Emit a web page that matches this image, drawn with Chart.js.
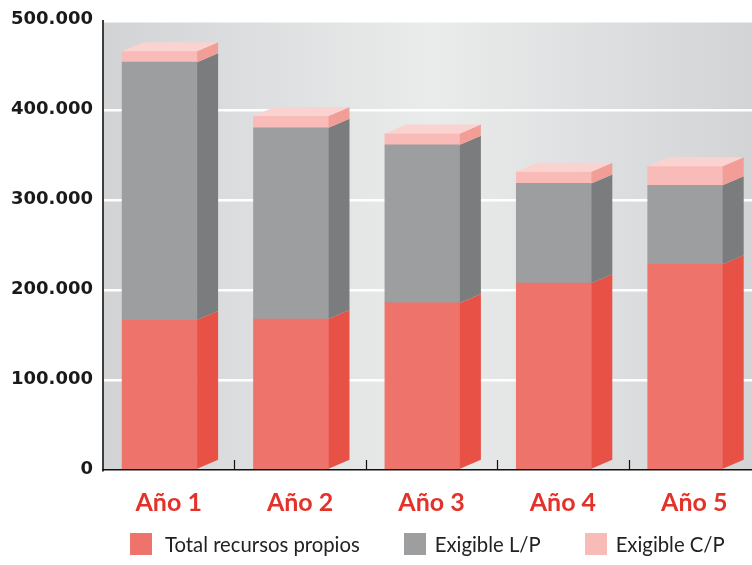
<!DOCTYPE html>
<html>
<head>
<meta charset="UTF-8">
<title>recursos.html</title>
<style>
	html, body {margin: 0; padding: 0; background: #fff; overflow: hidden;}
	#wrap {position: relative; width: 760px; height: 565px;}
	#leyenda {position: absolute; left: 130px; top: 533px; display: flex; gap: 44px;
		font-family: Lato, sans-serif; font-size: 20.3px; color: #222;}
	#leyenda .item {display: flex; align-items: center; height: 22px; white-space: nowrap;}
	#leyenda .caja {width: 22px; height: 22px; margin-right: 9px;}
	#leyenda .item:first-child .caja {margin-right: 13px;}
</style>
</head>
<body>
	<div id="wrap">
		<canvas id="myChart" width="760" height="565"></canvas>
		<div id="leyenda"></div>
	</div>
</body>
<script src="https://cdn.jsdelivr.net/npm/chart.js@4.4.0/dist/chart.umd.min.js"></script>
<script>
	// categorias y series (valores en euros)
	const years = ['Año 1', 'Año 2', 'Año 3', 'Año 4', 'Año 5'];
	const recursosPropios = [167000, 168000, 186000, 208000, 229000];
	const exigibleLP = [287000, 213000, 176000, 111000, 88000];
	const exigibleCP = [12000, 13000, 12500, 13000, 21000];
	const yMax = 500000;
	const yStep = 100000;

	// profundidad de las caras laterales
	const DX = 21, DY = 9;

	// numero con punto de miles: 500000 -> 500.000
	function miles(v) {
		return String(v).replace(/\B(?=(\d{3})+(?!\d))/g, '.');
	}

	function puntos(arr) {
		return arr.map((v, i) => ({x: i, y: v}));
	}

	const caras3d = {
		id: 'caras3d',
		beforeDraw(chart) {	// fondo gris con degradado
			const {ctx, chartArea: a} = chart;
			const g = ctx.createLinearGradient(a.left, 0, a.right, 0);
			g.addColorStop(0, '#d2d3d5');
			g.addColorStop(0.5, '#eaebeb');
			g.addColorStop(1, '#d2d3d5');
			ctx.save();
			ctx.fillStyle = g;
			ctx.fillRect(a.left, a.top, a.right - a.left, a.bottom - a.top);
			ctx.restore();
		},
		afterDatasetsDraw(chart) {	// lateral derecho de cada tramo + tapa arriba
			const ctx = chart.ctx;
			const sets = chart.data.datasets;
			ctx.save();
			years.forEach((_, j) => {
				sets.forEach((ds, k) => {
					const bar = chart.getDatasetMeta(k).data[j];
					const l = bar.x - bar.width / 2;
					const r = bar.x + bar.width / 2;
					ctx.fillStyle = ds.sideColor;
					ctx.beginPath();
					ctx.moveTo(r, bar.y);
					ctx.lineTo(r + DX, bar.y - DY);
					ctx.lineTo(r + DX, bar.base - DY);
					ctx.lineTo(r, bar.base);
					ctx.closePath();
					ctx.fill();
					if (k === sets.length - 1) {
						ctx.fillStyle = ds.topColor;
						ctx.beginPath();
						ctx.moveTo(l, bar.y);
						ctx.lineTo(l + DX, bar.y - DY);
						ctx.lineTo(r + DX, bar.y - DY);
						ctx.lineTo(r, bar.y);
						ctx.closePath();
						ctx.fill();
					}
				});
			});
			ctx.restore();
		},
		afterDraw(chart) {	// marcas entre categorias, hacia arriba
			const ctx = chart.ctx;
			const sx = chart.scales.x;
			const bottom = chart.chartArea.bottom;
			ctx.save();
			ctx.strokeStyle = '#111';
			ctx.lineWidth = 1.2;
			for (let i = 0; i < years.length - 1; i++) {
				const px = Math.round((sx.getPixelForValue(i) + sx.getPixelForValue(i + 1)) / 2) + 0.5;
				ctx.beginPath();
				ctx.moveTo(px, bottom);
				ctx.lineTo(px, bottom - 10);
				ctx.stroke();
			}
			ctx.restore();
		}
	};

	Chart.defaults.font.family = "Lato, sans-serif";

	const ctx = document.getElementById('myChart');
	const chart = new Chart(ctx, {
		type: 'bar',
		data: {
			labels: years,
			datasets: [{
				label: 'Total recursos propios',
				data: puntos(recursosPropios),
				backgroundColor: '#ee736a',
				sideColor: '#e85145',
				topColor: '#f3918a'
			}, {
				label: 'Exigible L/P',
				data: puntos(exigibleLP),
				backgroundColor: '#9d9ea0',
				sideColor: '#7b7c7e',
				topColor: '#b4b5b7'
			}, {
				label: 'Exigible C/P',
				data: puntos(exigibleCP),
				backgroundColor: '#f8bbb7',
				sideColor: '#f29d96',
				topColor: '#fad3d0'
			}]
		},
		options: {
			responsive: false,
			animation: false,
			layout: {padding: {top: 18, left: 0, right: 0, bottom: 29}},
			datasets: {
				bar: {
					xAxisID: 'xb',
					borderWidth: 0,
					barThickness: 75
				}
			},
			scales: {
				xb: {	// eje numerico oculto que coloca las barras
					type: 'linear',
					display: false,
					offset: false,
					stacked: true,
					min: -0.4307,
					max: 4.5693
				},
				x: {
					type: 'category',
					position: 'bottom',
					offset: true,
					grid: {display: false, drawTicks: false},
					border: {color: '#111', width: 1.5, z: 1},
					ticks: {
						color: '#e4322b',
						padding: 18,
						font: {size: 25, weight: 'bold'}
					}
				},
				y: {
					stacked: true,
					min: 0,
					max: yMax,
					grid: {color: '#ffffff', lineWidth: 2.5, drawTicks: false},
					border: {color: '#3d3d3d', width: 2},
					ticks: {
						stepSize: yStep,
						padding: 10,
						labelOffset: -1,
						color: '#1a1a1a',
						font: {family: "'DejaVu Sans'", size: 18, weight: 'bold'},
						callback: (v) => miles(v)
					},
					afterFit(s) { s.width = 103; }
				}
			},
			plugins: {
				legend: {display: false},
				tooltip: {enabled: false}
			}
		},
		plugins: [caras3d]
	});

	// leyenda en html con los colores de cada serie
	let html = '';
	chart.data.datasets.forEach((ds) => {
		html += `<div class="item"><span class="caja" style="background:${ds.backgroundColor}"></span>${ds.label}</div>`;
	});
	document.getElementById('leyenda').innerHTML = html;
</script>
</html>
